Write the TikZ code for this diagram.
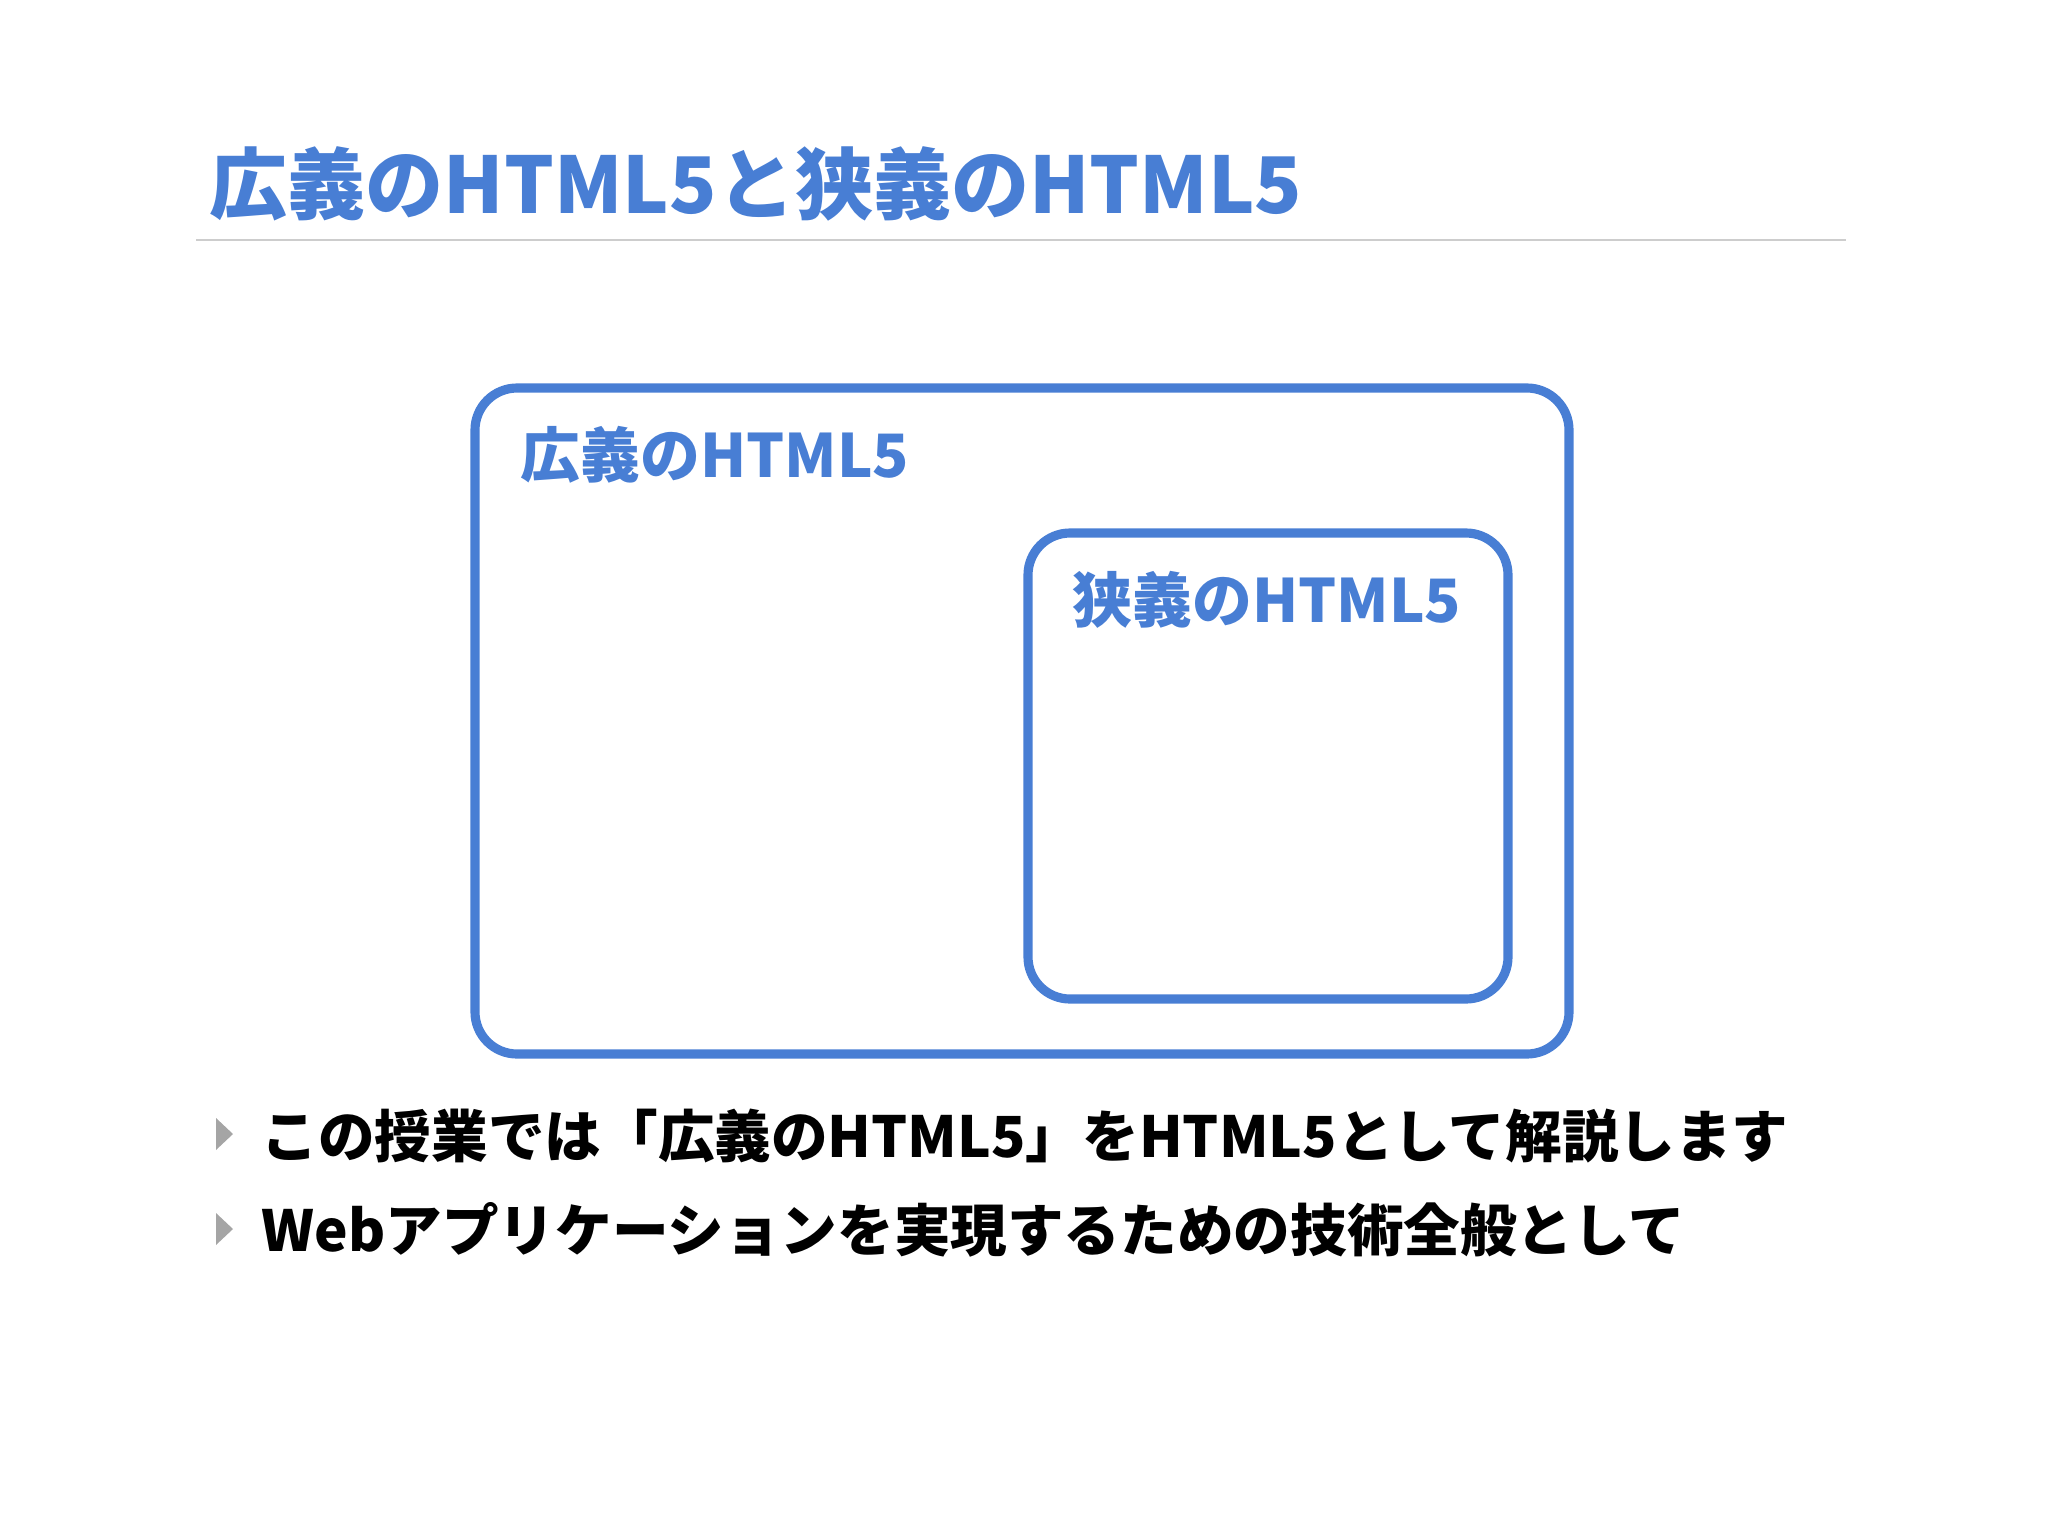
\documentclass[tikz,border=0pt]{standalone}
\usepackage{fontspec}
\setmainfont{Noto Sans CJK JP}
\usepackage{xcolor}
\definecolor{htmlblue}{RGB}{72,126,212}
\definecolor{rulegray}{RGB}{205,205,205}
\definecolor{bulletgray}{RGB}{165,165,165}

\begin{document}
\begin{tikzpicture}[x=0.01cm,y=-0.01cm]
    \tikzstyle{frame} = [draw=htmlblue, line width=2.6pt, rounded corners=0.42cm]
    \tikzstyle{lbl} = [anchor=base west, inner sep=0pt, text=htmlblue, font=\fontsize{17}{17}\selectfont\bfseries]
    \tikzstyle{item} = [anchor=base west, inner sep=0pt, font=\fontsize{16.1}{16.1}\selectfont\bfseries]
    \tikzstyle{tri} = [fill=bulletgray, draw=none]
    \useasboundingbox (0,0) rectangle (2048,1536);
    % title and rule
    \node[lbl, font=\fontsize{22.2}{22.2}\selectfont\bfseries] (title) at (209,213) {広義のHTML5と狭義のHTML5};
    \coordinate (ruleL) at (196,240);
    \coordinate (ruleR) at (1846,240);
    \draw[rulegray, line width=0.6pt] (ruleL) -- (ruleR);
    % the two boxes
    \draw[frame] (475,388) rectangle (1569,1054);
    \node[lbl] (broad) at (520,477) {広義のHTML5};
    \draw[frame] (1028,533) rectangle (1508,999);
    \node[lbl] (narrow) at (1072,622) {狭義のHTML5};
    % bullets
    \fill[tri] (216,1118) -- (233,1134) -- (216,1150) -- cycle;
    \node[item] (itemA) at (261,1157) {この授業では「広義のHTML5」をHTML5として解説します};
    \fill[tri] (216,1213) -- (233,1229) -- (216,1245) -- cycle;
    \node[item] (itemB) at (261,1251) {Webアプリケーションを実現するための技術全般として};
\end{tikzpicture}
\end{document}
